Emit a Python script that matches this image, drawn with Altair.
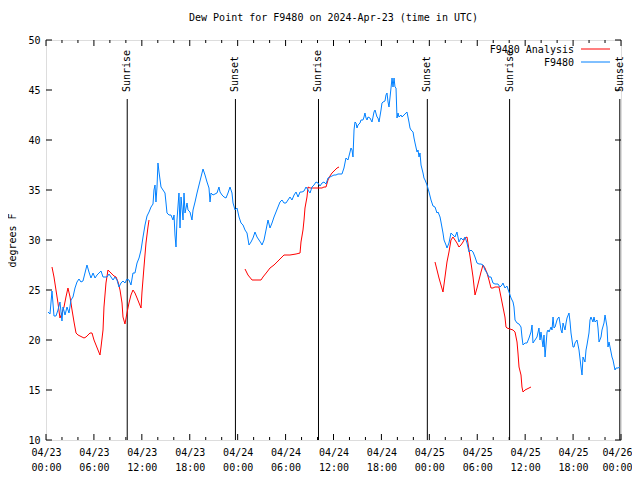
import altair as alt
import pandas as pd

# Hours since 2024-04-23 00:00 UTC, dew point (deg F)
blue_obs = [(0.25,22.8),(0.50,22.6),(0.75,24.9),(1.00,22.4),(1.25,22.4),(1.50,23.0),(1.75,23.8),(2.00,21.9),(2.13,23.3),(2.38,22.5),(2.63,23.3),(2.88,22.7),(3.13,24.0),(3.38,24.3),(3.63,25.2),(3.88,25.8),(4.13,26.1),(4.38,25.8),(4.63,25.9),(4.88,26.7),(5.13,27.5),(5.38,26.8),(5.63,26.2),(5.89,26.7),(6.14,26.2),(6.39,26.5),(6.64,26.7),(6.89,26.9),(7.14,26.3),(7.39,26.3),(7.64,26.3),(7.89,26.6),(8.14,26.3),(8.39,26.0),(8.64,26.3),(8.89,26.0),(9.14,25.3),(9.39,25.7),(9.64,25.9),(9.89,25.7),(10.14,26.1),(10.39,26.0),(10.64,25.5),(10.89,26.7),(11.14,26.7),(11.40,27.7),(11.65,28.2),(11.90,29.0),(12.15,30.3),(12.40,31.5),(12.65,32.4),(12.90,32.8),(13.15,33.3),(13.40,33.6),(13.52,35.0),(13.65,35.5),(13.77,33.8),(13.90,35.3),(14.02,37.7),(14.15,36.8),(14.40,35.3),(14.65,35.0),(14.90,34.7),(15.03,33.7),(15.15,32.7),(15.40,32.5),(15.65,32.5),(15.90,32.0),(16.03,32.5),(16.15,30.5),(16.28,29.3),(16.40,32.0),(16.65,34.7),(16.78,31.2),(16.91,34.3),(17.16,32.0),(17.28,34.7),(17.41,32.7),(17.66,33.7),(17.78,33.0),(18.03,32.8),(18.28,32.0),(18.41,33.0),(18.66,33.8),(18.91,34.7),(19.16,35.5),(19.41,36.3),(19.66,37.1),(19.91,36.5),(20.16,35.8),(20.41,35.2),(20.54,33.8),(20.66,34.7),(20.91,34.5),(21.16,34.6),(21.41,34.7),(21.66,35.3),(21.79,34.8),(22.04,34.5),(22.29,34.3),(22.54,34.2),(22.79,34.7),(23.04,35.3),(23.29,34.7),(23.42,33.7),(23.67,33.0),(23.92,33.2),(24.17,32.3),(24.42,31.7),(24.67,31.5),(24.92,31.0),(25.17,30.7),(25.42,29.5),(25.67,29.8),(25.92,30.2),(26.17,30.8),(26.42,30.3),(26.67,30.0),(26.92,29.7),(27.05,29.5),(27.30,30.0),(27.55,31.0),(27.80,32.0),(28.05,31.2),(28.30,31.7),(28.55,32.3),(28.80,32.8),(29.05,33.3),(29.30,33.8),(29.55,34.0),(29.80,33.7),(30.05,33.7),(30.30,34.0),(30.55,34.3),(30.80,34.0),(31.06,34.5),(31.31,34.8),(31.56,34.3),(31.81,34.8),(32.06,34.8),(32.31,34.9),(32.56,35.3),(32.81,35.0),(33.06,34.7),(33.31,35.3),(33.56,35.5),(33.81,35.8),(34.06,35.7),(34.31,35.4),(34.56,35.7),(34.81,35.8),(35.06,35.6),(35.31,36.2),(35.56,36.3),(35.81,36.4),(36.06,36.5),(36.31,36.5),(36.56,36.6),(36.81,36.6),(37.06,36.6),(37.31,37.2),(37.56,38.2),(37.81,38.0),(38.07,38.8),(38.19,39.2),(38.32,39.0),(38.44,38.3),(38.57,41.0),(38.69,41.8),(38.82,41.7),(38.94,41.2),(39.07,41.5),(39.32,41.7),(39.44,42.0),(39.69,42.0),(39.82,42.3),(39.94,42.7),(40.07,42.2),(40.20,42.0),(40.32,42.3),(40.57,42.2),(40.82,41.8),(40.95,42.3),(41.07,42.8),(41.20,43.0),(41.45,42.3),(41.57,42.2),(41.70,41.8),(41.95,43.0),(42.07,43.7),(42.20,43.8),(42.45,43.9),(42.57,44.5),(42.70,44.7),(42.83,43.8),(42.95,43.3),(43.20,45.2),(43.33,46.2),(43.45,45.3),(43.58,46.2),(43.70,45.3),(43.83,45.2),(43.95,42.2),(44.08,42.7),(44.20,42.3),(44.45,42.5),(44.58,42.3),(44.83,42.5),(45.08,42.7),(45.20,42.8),(45.45,41.8),(45.58,41.2),(45.71,41.0),(45.96,40.8),(46.08,40.2),(46.21,39.7),(46.46,38.8),(46.58,39.0),(46.71,38.3),(46.83,38.7),(46.96,37.5),(47.21,36.7),(47.33,36.2),(47.46,36.0),(47.71,35.5),(47.96,34.8),(48.21,34.0),(48.46,33.4),(48.71,33.3),(48.96,32.7),(49.09,32.8),(49.34,32.3),(49.46,31.8),(49.71,30.7),(49.84,30.0),(50.09,29.5),(50.21,29.2),(50.46,29.7),(50.71,30.7),(50.96,30.5),(51.21,30.3),(51.46,30.8),(51.71,29.8),(51.96,30.2),(52.22,30.0),(52.47,30.3),(52.72,29.7),(52.97,28.8),(53.22,29.0),(53.47,28.8),(53.72,28.3),(53.97,27.7),(54.22,27.6),(54.47,27.6),(54.72,27.5),(54.97,27.0),(55.22,26.7),(55.47,26.3),(55.72,26.3),(55.97,25.7),(56.22,25.6),(56.60,25.6),(56.85,25.3),(57.10,25.5),(57.22,25.7),(57.47,25.2),(57.72,25.4),(57.97,24.8),(58.23,24.2),(58.48,23.8),(58.60,23.3),(58.73,22.0),(58.98,21.7),(59.23,21.6),(59.48,21.3),(59.60,20.3),(59.73,19.5),(59.98,19.7),(60.23,19.7),(60.48,20.2),(60.73,20.8),(60.86,21.5),(60.98,19.7),(61.23,20.0),(61.48,20.3),(61.73,21.2),(61.86,20.0),(61.98,20.8),(62.24,19.3),(62.36,20.5),(62.49,18.3),(62.74,20.8),(62.86,21.0),(62.99,20.8),(63.24,21.3),(63.36,21.0),(63.49,22.3),(63.61,21.2),(63.74,21.3),(63.99,22.0),(64.11,22.2),(64.24,22.3),(64.49,21.0),(64.62,20.7),(64.74,21.7),(64.99,21.0),(65.12,21.7),(65.24,22.2),(65.49,22.7),(65.62,21.8),(65.74,20.7),(65.99,19.3),(66.12,19.3),(66.24,19.7),(66.49,20.0),(66.62,19.5),(66.74,19.0),(66.99,17.3),(67.12,16.5),(67.24,18.3),(67.49,17.8),(67.62,19.0),(67.74,19.5),(67.99,20.7),(68.12,22.0),(68.24,22.3),(68.49,21.8),(68.62,22.3),(68.75,21.8),(69.00,22.0),(69.12,21.2),(69.25,19.8),(69.50,20.3),(69.62,21.0),(69.87,21.7),(70.00,22.5),(70.25,21.3),(70.37,19.3),(70.50,19.8),(70.75,18.8),(70.87,18.3),(71.00,18.0),(71.25,17.0),(71.37,17.2),(71.62,17.2),(71.87,17.3)]

analysis_seg1 = [(0.75,27.3),(1.00,26.3),(1.25,25.0),(1.50,23.7),(1.75,22.2),(2.00,22.7),(2.25,23.3),(2.50,24.3),(2.75,25.2),(3.01,24.3),(3.26,23.0),(3.51,21.8),(3.76,20.7),(4.01,20.5),(4.26,20.4),(4.51,20.3),(4.76,20.2),(5.01,20.3),(5.26,20.5),(5.51,20.7),(5.76,20.7),(6.01,20.0),(6.26,19.5),(6.51,19.0),(6.76,18.5),(6.89,19.3),(7.14,21.0),(7.26,23.3),(7.51,25.7),(7.76,27.0),(8.01,26.8),(8.26,26.6),(8.51,26.4),(8.77,26.3),(9.02,25.8),(9.27,25.0),(9.52,23.7),(9.64,22.3),(9.89,21.6),(10.14,22.7),(10.39,23.7),(10.64,24.5),(10.89,25.0),(11.14,24.7),(11.40,24.2),(11.65,23.7),(11.90,23.2),(12.02,24.8),(12.27,27.3),(12.52,29.7),(12.77,31.3),(12.90,32.0)]
analysis_seg2 = [(24.92,27.1),(25.29,26.5),(25.80,26.0),(26.42,26.0),(26.92,26.0),(27.17,26.3),(27.67,26.8),(28.05,27.2),(28.55,27.5),(28.93,27.8),(29.55,28.3),(29.80,28.5),(30.55,28.5),(31.31,28.6),(31.81,28.7),(31.93,29.8),(32.18,31.0),(32.31,32.0),(32.43,33.2),(32.68,34.3),(32.81,35.3),(33.06,35.2),(33.43,35.2),(34.06,35.2),(34.56,35.2),(34.81,35.3),(35.06,35.3),(35.31,36.0),(35.56,36.4),(35.81,36.7),(36.19,37.0),(36.44,37.2),(36.69,37.3)]
analysis_seg3 = [(48.71,27.8),(48.96,27.0),(49.21,26.2),(49.46,25.5),(49.71,24.8),(49.96,26.3),(50.21,27.8),(50.46,28.8),(50.71,30.0),(50.96,30.3),(51.21,30.0),(51.46,29.7),(51.71,29.3),(51.96,29.5),(52.22,29.8),(52.47,30.2),(52.72,30.3),(52.97,29.0),(53.22,27.7),(53.47,26.3),(53.72,24.5),(53.97,25.2),(54.22,26.0),(54.47,26.8),(54.72,27.5),(54.97,27.2),(55.22,26.7),(55.47,26.0),(55.72,25.2),(55.97,25.2),(56.22,25.3),(56.72,25.3),(56.97,24.3),(57.22,23.3),(57.47,22.3),(57.60,21.3),(57.72,21.2),(58.10,21.1),(58.48,21.0),(58.73,20.8),(58.98,19.8),(59.10,18.7),(59.23,17.3),(59.48,16.5),(59.60,15.3),(59.73,14.8),(59.98,15.0),(60.23,15.1),(60.48,15.2),(60.73,15.3)]

sun_hours = [10.17, 23.72, 34.12, 47.75, 58.05, 71.85]
sun_labels = ["Sunrise", "Sunset", "Sunrise", "Sunset", "Sunrise", "Sunset"]

x_major = [0, 6, 12, 18, 24, 30, 36, 42, 48, 54, 60, 66, 72]
x_minor = [h for h in range(0, 73, 2) if h % 6 != 0]
y_major = [10, 15, 20, 25, 30, 35, 40, 45, 50]

TITLE = "Dew Point for F9480 on 2024-Apr-23 (time in UTC)"
FONT = "DejaVu Sans Mono"
RED = "#ff0000"
BLUE = "#0080ff"

blue_df = pd.DataFrame(blue_obs, columns=["hours", "dewpt"])
red_df = pd.concat([
    pd.DataFrame(s, columns=["hours", "dewpt"]).assign(seg=i)
    for i, s in enumerate([analysis_seg1, analysis_seg2, analysis_seg3])
])
sun_df = pd.DataFrame({"hours": sun_hours, "label": sun_labels})
xmaj_df = pd.DataFrame({"hours": x_major})
xmin_df = pd.DataFrame({"hours": x_minor})
ymaj_df = pd.DataFrame({"dewpt": y_major})

W, H = 575, 400
xscale = alt.Scale(domain=[0, 72], nice=False, zero=False)
yscale = alt.Scale(domain=[10, 50], nice=False, zero=False)

label_expr = ("['04/' + (23 + floor(datum.value / 24)), "
              "(datum.value % 24 < 10 ? '0' : '') + (datum.value % 24) + ':00']")

x_axis = alt.Axis(values=x_major, labelExpr=label_expr, title=None, ticks=False, tickSize=0,
                  domain=False, grid=False, labelFont=FONT, labelFontSize=10, labelColor="black",
                  labelPadding=7, labelLineHeight=15, labelBaseline="top", labelFlush=False,
                  labelOverlap=False,
                  labelOffset={"condition": {"test": "datum.value == 72", "value": -4}, "value": 0})
y_axis = alt.Axis(values=y_major, title="degrees F", ticks=False, tickSize=0, domain=False,
                  grid=False, labelFont=FONT, labelFontSize=10, labelColor="black", labelPadding=6,
                  titleFont=FONT, titleFontSize=10, titleFontWeight="normal", titleColor="black",
                  titlePadding=10)

X = alt.X("hours:Q", scale=xscale, axis=x_axis)
Y = alt.Y("dewpt:Q", scale=yscale, axis=y_axis)

red_line = alt.Chart(red_df).mark_line(color=RED, strokeWidth=1).encode(x=X, y=Y, detail="seg:N")
blue_line = alt.Chart(blue_df).mark_line(color=BLUE, strokeWidth=1).encode(x=X, y=Y)

sun_rule = alt.Chart(sun_df).mark_rule(color="black", strokeWidth=1).encode(
    x=X, y=alt.value(59), y2=alt.value(H),
)
sun_text = alt.Chart(sun_df).mark_text(angle=270, align="left", baseline="middle",
                                       font=FONT, fontSize=10, color="black").encode(
    x=X, y=alt.value(52), text="label:N",
)

def xticks(df, y0, y1):
    return alt.Chart(df).mark_rule(color="black", strokeWidth=1).encode(
        x=X, y=alt.value(y0), y2=alt.value(y1))

def yticks(x0, x1):
    return alt.Chart(ymaj_df).mark_rule(color="black", strokeWidth=1).encode(
        y=Y, x=alt.value(x0), x2=alt.value(x1))

ticks = [
    xticks(xmaj_df, H, H - 6), xticks(xmaj_df, 0, 6),
    xticks(xmin_df, H, H - 3), xticks(xmin_df, 0, 3),
    yticks(0, 6), yticks(W, W - 6),
]

legend_df = pd.DataFrame({"label": ["F9480 Analysis", "F9480"], "color": [RED, BLUE]})
leg_text1 = alt.Chart(legend_df.iloc[[0]]).mark_text(align="right", baseline="middle", font=FONT,
                                                     fontSize=10, color="black").encode(
    x=alt.value(528), y=alt.value(10), text="label:N")
leg_text2 = alt.Chart(legend_df.iloc[[1]]).mark_text(align="right", baseline="middle", font=FONT,
                                                     fontSize=10, color="black").encode(
    x=alt.value(528), y=alt.value(23), text="label:N")
leg_rule1 = alt.Chart(legend_df.iloc[[0]]).mark_rule(color=RED, strokeWidth=1).encode(
    x=alt.value(535), x2=alt.value(564), y=alt.value(9))
leg_rule2 = alt.Chart(legend_df.iloc[[1]]).mark_rule(color=BLUE, strokeWidth=1).encode(
    x=alt.value(535), x2=alt.value(564), y=alt.value(22))

chart = alt.layer(
    sun_rule, sun_text, red_line, blue_line, *ticks,
    leg_text1, leg_text2, leg_rule1, leg_rule2,
).properties(
    width=W, height=H,
    title=alt.TitleParams(TITLE, font=FONT, fontSize=10, fontWeight="normal", color="black",
                          anchor="middle", offset=12),
    autosize=alt.AutoSizeParams(type="none"),
    padding={"left": 38, "top": 32, "right": 11, "bottom": 32},
).configure_view(stroke="black", strokeWidth=1).configure(background="white")

chart.save("out.html", embed_options={"renderer": "svg", "actions": False})
